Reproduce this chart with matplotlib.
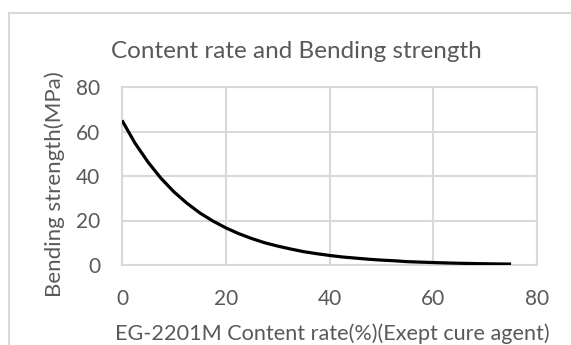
import matplotlib
matplotlib.use("Agg")
import matplotlib.pyplot as plt
from matplotlib.patches import Rectangle

# Bending strength (MPa) versus EG-2201M content rate (%)
content_rate = [0, 2.5, 5, 7.5, 10, 12.5, 15, 17.5, 20, 22.5, 25, 27.5, 30,
                32.5, 35, 37.5, 40, 42.5, 45, 47.5, 50, 52.5, 55, 57.5, 60,
                62.5, 65, 67.5, 70, 72.5, 75]
bending_strength = [65.0, 54.8, 46.3, 39.0, 32.9, 27.8, 23.4, 19.8, 16.7, 14.1,
                    11.9, 10.0, 8.5, 7.2, 6.0, 5.1, 4.3, 3.6, 3.1, 2.6, 2.2,
                    1.9, 1.5, 1.3, 1.1, 0.93, 0.78, 0.66, 0.56, 0.47, 0.40]
x_ticks = [0, 20, 40, 60, 80]
y_ticks = [0, 20, 40, 60, 80]

title = "Content rate and Bending strength"
x_label = "EG-2201M Content rate(%)(Exept cure agent)"
y_label = "Bending strength(MPa)"

TEXT = "#595959"
GRID = "#d9d9d9"
FONT = ["Lato", "DejaVu Sans"]

W, H = 571, 345
fig = plt.figure(figsize=(W / 100, H / 100), dpi=100)
fig.patch.set_facecolor("white")

# chart-area frame (extends past the right and bottom edges)
fig.patches.append(Rectangle((9 / W, -0.1), 1.2, (H - 13) / H + 0.1,
                             transform=fig.transFigure, fill=False,
                             edgecolor=GRID, linewidth=1.5))

ax = fig.add_axes([122 / W, 1 - 265 / H, (537 - 122) / W, (265 - 87) / H])
ax.plot(content_rate, bending_strength, color="black", linewidth=2.3,
        solid_capstyle="butt", zorder=3)

ax.set_xlim(0, 80)
ax.set_ylim(0, 80)
ax.set_xticks(x_ticks)
ax.set_yticks(y_ticks)
ax.grid(True, color=GRID, linewidth=1.5)
ax.set_axisbelow(True)
for s in ax.spines.values():
    s.set_color(GRID)
    s.set_linewidth(1.5)
ax.tick_params(length=0, colors=TEXT, labelsize=15)
ax.tick_params(axis="y", pad=15.5)
ax.tick_params(axis="x", pad=17)
for lab in ax.get_xticklabels() + ax.get_yticklabels():
    lab.set_family(FONT)

fig.text(296 / W, 1 - 51 / H, title, ha="center", va="center",
         color=TEXT, fontsize=17.5, family=FONT)
fig.text(332 / W, 1 - 334 / H, x_label, ha="center", va="center",
         color=TEXT, fontsize=15.6, family=FONT)
fig.text(55 / W, 1 - 184 / H, y_label, ha="center", va="center",
         rotation=90, color=TEXT, fontsize=16.0, family=FONT)

fig.savefig("out.png", dpi=100, facecolor="white")
